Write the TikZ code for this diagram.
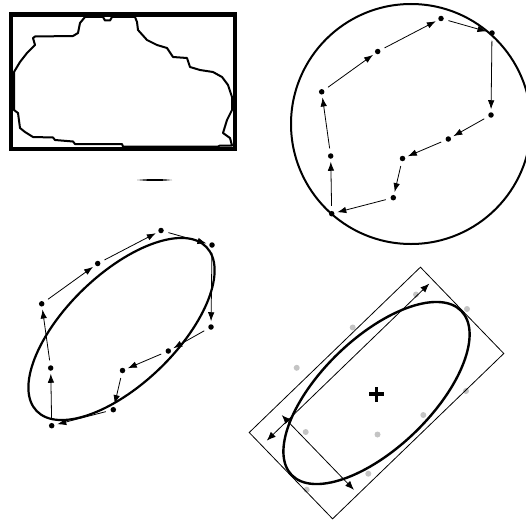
\documentclass[tikz,border=0pt]{standalone}
\usepackage{tikz}
\usetikzlibrary{shapes.geometric, arrows.meta}
\definecolor{dotgrey}{HTML}{C4C4C4}
\newcommand{\ptlist}{321.7/91.8, 377.7/51.5, 441/18.5, 492/33, 491/115, 448.3/139, 402.5/158.5, 393.3/197.7, 331.7/213.7, 330.7/156}

\begin{document}
\begin{tikzpicture}[
    x=1pt, y=1pt,
    dot/.style={circle, fill=black, inner sep=0pt, outer sep=0pt, minimum size=5.5pt},
    greydot/.style={circle, fill=dotgrey, inner sep=0pt, minimum size=6pt},
    arr/.style={-{Latex[length=9pt, width=6.5pt]}, line width=0.8pt, shorten <=5pt, shorten >=3pt},
    darr/.style={{Latex[length=9pt, width=7pt]}-{Latex[length=9pt, width=7pt]}, line width=0.8pt},
    outline/.style={line width=2pt, line join=round},
    fitellipse/.style={draw, ellipse, line width=2.2pt, rotate=44, inner sep=0pt,
                       minimum width=236pt, minimum height=110pt},
]
\useasboundingbox (0,0) rectangle (526,-519);

% blob in its bounding box
\draw[line width=4.5pt] (10.8,-14.7) rectangle (234.8,-149.2);
\draw[outline] (85,-17) -- (103,-17) -- (105,-20.5) -- (110,-20.5) -- (112,-17) -- (135,-17)
    -- (137,-22) -- (138,-30) -- (147,-40) -- (157,-45) -- (167,-48) -- (173,-57) -- (187,-58)
    -- (190,-67) -- (200,-70) -- (213,-72) -- (222,-77) -- (228,-85) -- (232,-97) -- (232,-110)
    -- (227,-120) -- (223,-133) -- (230,-138) -- (232,-145.5) -- (220,-145.5) -- (218,-146.5)
    -- (123,-146.5) -- (122,-144) -- (75,-144) -- (73,-141.5) -- (55,-140) -- (53,-137.5)
    -- (33,-137) -- (25,-132) -- (20,-128) -- (18,-113) -- (14,-110) -- (14,-72) -- (20,-62)
    -- (27,-53) -- (35,-45) -- (33,-38) -- (35,-36.5) -- (73,-36) -- (78,-33) -- (80,-23) -- cycle;
\fill (137,-180) .. controls (150,-178.7) and (160,-178.7) .. (172,-180)
    .. controls (160,-181.3) and (150,-181.3) .. (137,-180) -- cycle;

% enclosing circle
\begin{scope}
  \foreach \x/\y [count=\i] in \ptlist
    \node[dot] (c\i) at (\x,-\y) {};
  \foreach \i/\j in {1/2,2/3,3/4,4/5,5/6,6/7,7/8,8/9,9/10,10/1}
    \draw[arr] (c\i) -- (c\j);
  \node[draw, circle, line width=2pt, inner sep=0pt, minimum size=240pt] (circ) at (411,-124) {};
\end{scope}

% fitted ellipse over the chain
\begin{scope}[shift={(-280,-212)}]
  \foreach \x/\y [count=\i] in \ptlist
    \node[dot] (e\i) at (\x,-\y) {};
  \foreach \i/\j in {1/2,2/3,3/4,4/5,5/6,6/7,7/8,8/9,9/10,10/1}
    \draw[arr] (e\i) -- (e\j);
  \node[fitellipse] (ell) at (401.5,-117) {};
\end{scope}

% ellipse with its oriented box
\begin{scope}[shift={(-25,-276)}]
  \foreach \x/\y [count=\i] in \ptlist
    \node[greydot] (g\i) at (\x,-\y) {};
  \node[draw, line width=0.8pt, rotate=44, inner sep=0pt,
        minimum width=238pt, minimum height=120pt] (box) at (401.5,-117) {};
  \begin{scope}[shift={(401.5,-117)}, rotate=44]
    \coordinate (la) at (-112,42);
    \coordinate (lb) at (114,42);
    \coordinate (sa) at (-83.5,50);
    \coordinate (sb) at (-83.5,-54);
  \end{scope}
  \draw[darr] (la) -- (lb);
  \draw[darr] (sa) -- (sb);
  \node[fitellipse, line width=2.4pt] (ell2) at (401.5,-117) {};
  \coordinate (ctr) at (401.5,-118);
  \draw[line width=3.3pt] ([xshift=-7.5pt]ctr) -- ([xshift=7.5pt]ctr);
  \draw[line width=3.3pt] ([yshift=-7.5pt]ctr) -- ([yshift=7.5pt]ctr);
\end{scope}
\end{tikzpicture}
\end{document}
